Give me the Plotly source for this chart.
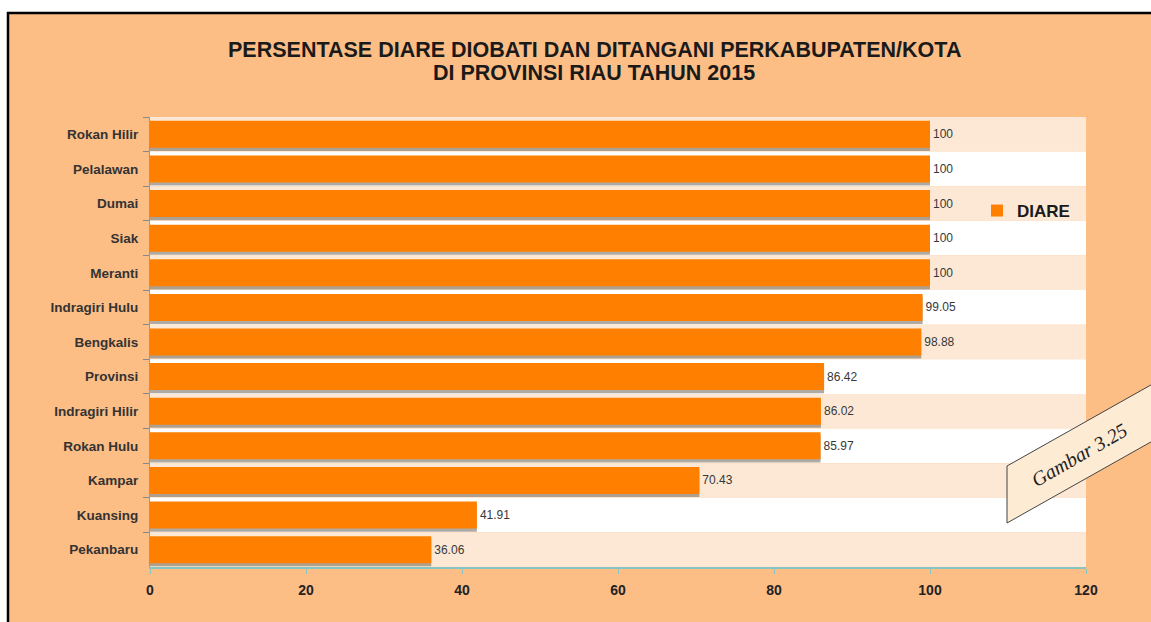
import plotly.graph_objects as go

categories = ["Rokan Hilir", "Pelalawan", "Dumai", "Siak", "Meranti", "Indragiri Hulu",
              "Bengkalis", "Provinsi", "Indragiri Hilir", "Rokan Hulu", "Kampar",
              "Kuansing", "Pekanbaru"]
diare = [100, 100, 100, 100, 100, 99.05, 98.88, 86.42, 86.02, 85.97, 70.43, 41.91, 36.06]
x_ticks = [0, 20, 40, 60, 80, 100, 120]
title_lines = ["PERSENTASE DIARE DIOBATI DAN DITANGANI PERKABUPATEN/KOTA",
               "DI PROVINSI RIAU TAHUN 2015"]
series_name = "DIARE"
figure_label = "Gambar 3.25"

W, H = 1151, 622
L, R, T, B = 150, 65, 117, 55
PW, PH = W - L - R, H - T - B


def px(x):
    return (x - L) / PW


def py(y):
    return (H - B - y) / PH


PEACH = "#FDBE86"
STRIPE = "#FCE8D5"
ORANGE = "#FF8000"
FONT = "Liberation Sans, Arial, sans-serif"

fig = go.Figure()

# shadow
fig.add_trace(go.Bar(
    y=categories, x=diare, orientation="h", width=0.78, offset=-0.39 + 0.09,
    marker=dict(color="rgba(110,100,90,0.55)", line=dict(width=0)),
    showlegend=False, hoverinfo="skip"))

fig.add_trace(go.Bar(
    y=categories, x=diare, orientation="h", width=0.78, offset=-0.39,
    name=series_name,
    marker=dict(color=ORANGE, line=dict(width=0)),
    text=[f"{v:g}" for v in diare], textposition="outside", cliponaxis=False,
    textfont=dict(family=FONT, size=12, color="#383838")))

shapes = []
# white page margin (top and left)
shapes.append(dict(type="rect", xref="paper", yref="paper",
                   x0=px(0), x1=px(W), y0=py(0), y1=py(13),
                   fillcolor="white", line=dict(width=0), layer="below"))
shapes.append(dict(type="rect", xref="paper", yref="paper",
                   x0=px(0), x1=px(8), y0=py(0), y1=py(H),
                   fillcolor="white", line=dict(width=0), layer="below"))
# black top / left border
shapes.append(dict(type="line", xref="paper", yref="paper",
                   x0=px(7), x1=px(W), y0=py(13), y1=py(13),
                   line=dict(color="black", width=2.5), layer="below"))
shapes.append(dict(type="line", xref="paper", yref="paper",
                   x0=px(8), x1=px(8), y0=py(12), y1=py(H),
                   line=dict(color="black", width=2.5), layer="below"))
# stripes
for i, c in enumerate(categories):
    shapes.append(dict(type="rect", xref="paper", yref="y",
                       x0=0, x1=1, y0=i - 0.5, y1=i + 0.5,
                       fillcolor=STRIPE if i % 2 == 0 else "white",
                       line=dict(width=0), layer="below"))
# label parallelogram
path = (f"M {px(1007)},{py(523)} L {px(1007)},{py(466)} "
        f"L {px(1165)},{py(377)} L {px(1165)},{py(434)} Z")
shapes.append(dict(type="path", xref="paper", yref="paper", path=path,
                   fillcolor="#FDEBD3", line=dict(color="#444444", width=1)))

annotations = [
    dict(xref="paper", yref="paper", x=px(1079), y=py(455), text=figure_label,
         showarrow=False, textangle=-30,
         font=dict(family="Liberation Serif, Times New Roman, serif", size=20,
                   color="#222222", style="italic"),
         xanchor="center", yanchor="middle"),
    dict(xref="paper", yref="paper", x=px(594), y=py(50),
         text="<b>" + title_lines[0] + "</b>",
         showarrow=False, xanchor="center", yanchor="middle",
         font=dict(family=FONT, size=21.5, color="#1a1a1a")),
    dict(xref="paper", yref="paper", x=px(594), y=py(73),
         text="<b>" + title_lines[1] + "</b>",
         showarrow=False, xanchor="center", yanchor="middle",
         font=dict(family=FONT, size=21.5, color="#1a1a1a")),
]

fig.update_layout(
    width=W, height=H,
    margin=dict(l=L, r=R, t=T, b=B),
    paper_bgcolor=PEACH, plot_bgcolor="rgba(0,0,0,0)",
    barmode="overlay",
    shapes=shapes, annotations=annotations,
    showlegend=True,
    legend=dict(x=px(977), y=py(211), xanchor="left", yanchor="middle",
                bgcolor="rgba(0,0,0,0)", itemwidth=30,
                font=dict(family=FONT, size=17, color="#1a1a1a", weight="bold")),
    xaxis=dict(range=[0, 120], tickvals=x_ticks, showgrid=False, zeroline=False,
               showline=True, linecolor="#86C5C2", linewidth=2,
               ticks="outside", ticklen=5, tickcolor="#86C5C2", ticklabelstandoff=4,
               tickfont=dict(family=FONT, size=14, color="#222222", weight="bold")),
    yaxis=dict(categoryorder="array", categoryarray=categories, autorange="reversed",
               showgrid=False, zeroline=False, showline=True, linecolor="#999999",
               linewidth=1, ticks="outside", ticklen=6, tickcolor="#888888",
               tickson="boundaries", ticklabelstandoff=8,
               tickfont=dict(family=FONT, size=13.5, color="#333333", weight="bold")),
)

fig.write_html("out.html",
               config={"displayModeBar": False},
               post_script="document.body.style.margin='0';"
                           "document.body.style.padding='0';"
                           "document.body.style.overflow='hidden';")
